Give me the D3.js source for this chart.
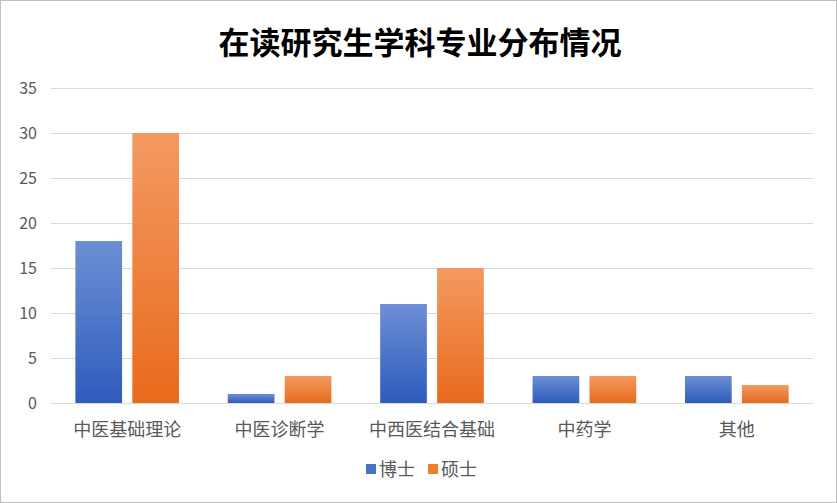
<!DOCTYPE html>
<html><head><meta charset="utf-8">
<script src="https://cdn.jsdelivr.net/npm/d3@7"></script>
<style>body{margin:0;background:#fff;font-family:"Noto Sans CJK SC",sans-serif;}</style>
</head><body>
<script>
const categories = ["中医基础理论", "中医诊断学", "中西医结合基础", "中药学", "其他"];
const seriesNames = ["博士", "硕士"];
const phd = [18, 1, 11, 3, 3];
const master = [30, 3, 15, 3, 2];
const yTicks = [0, 5, 10, 15, 20, 25, 30, 35];

const W = 837, H = 503;
const margin = {top: 88, left: 51, right: 24, bottom: 100};

const svg = d3.select("body").append("svg").attr("width", W).attr("height", H);

const defs = svg.append("defs");
function grad(id, top, bottom) {
    let g = defs.append("linearGradient").attr("id", id)
        .attr("x1", 0).attr("y1", 0).attr("x2", 0).attr("y2", 1);
    g.append("stop").attr("offset", "0%").attr("stop-color", top);
    g.append("stop").attr("offset", "100%").attr("stop-color", bottom);
}
grad("gBlue", "#6d8fd4", "#2e5cbd");
grad("gOrange", "#f39a62", "#e96a1c");
const fills = ["url(#gBlue)", "url(#gOrange)"];
const legendColors = ["#4472c4", "#ed7d31"];

svg.append("rect").attr("x", 0.5).attr("y", 0.5).attr("width", W - 1).attr("height", H - 1)
    .attr("fill", "#fff").attr("stroke", "#bfbfbf");

svg.append("text").attr("x", 420).attr("y", 54).attr("text-anchor", "middle")
    .attr("font-size", 31).attr("font-weight", "bold").attr("fill", "#000")
    .text("在读研究生学科专业分布情况");

const x = d3.scaleBand().domain(categories).range([margin.left, W - margin.right]);
const y = d3.scaleLinear().domain([0, 35]).range([403, 88]);

// gridlines
svg.append("g").selectAll("line").data(yTicks).enter().append("line")
    .attr("x1", margin.left).attr("x2", W - margin.right)
    .attr("y1", d => y(d) + 0.5).attr("y2", d => y(d) + 0.5)
    .attr("stroke", "#d9d9d9");

svg.append("g").selectAll("text").data(yTicks).enter().append("text")
    .attr("x", 37).attr("y", d => y(d) + 6).attr("text-anchor", "end")
    .attr("font-size", 16).attr("fill", "#595959").text(d => d);

const bw = x.bandwidth();
const sub = d3.scaleBand().domain([0, 1]).range([bw * 0.16, bw * 0.84]).paddingInner(0.18);
const data = [phd, master];

data.forEach((vals, s) => {
    svg.append("g").selectAll("rect").data(vals).enter().append("rect")
        .attr("x", (d, i) => x(categories[i]) + sub(s))
        .attr("width", sub.bandwidth())
        .attr("y", d => y(d))
        .attr("height", d => y(0) - y(d))
        .attr("fill", fills[s]);
});

svg.append("g").selectAll("text").data(categories).enter().append("text")
    .attr("x", d => x(d) + x.bandwidth() / 2).attr("y", 436).attr("text-anchor", "middle")
    .attr("font-size", 18).attr("fill", "#595959").text(d => d);

// legend
const lg = svg.append("g");
seriesNames.forEach((n, i) => {
    const lx = 366 + i * 62;
    lg.append("rect").attr("x", lx).attr("y", 464).attr("width", 10).attr("height", 10).attr("fill", legendColors[i]);
    lg.append("text").attr("x", lx + 13).attr("y", 476).attr("font-size", 18).attr("fill", "#595959").text(n);
});
</script>
</body></html>
